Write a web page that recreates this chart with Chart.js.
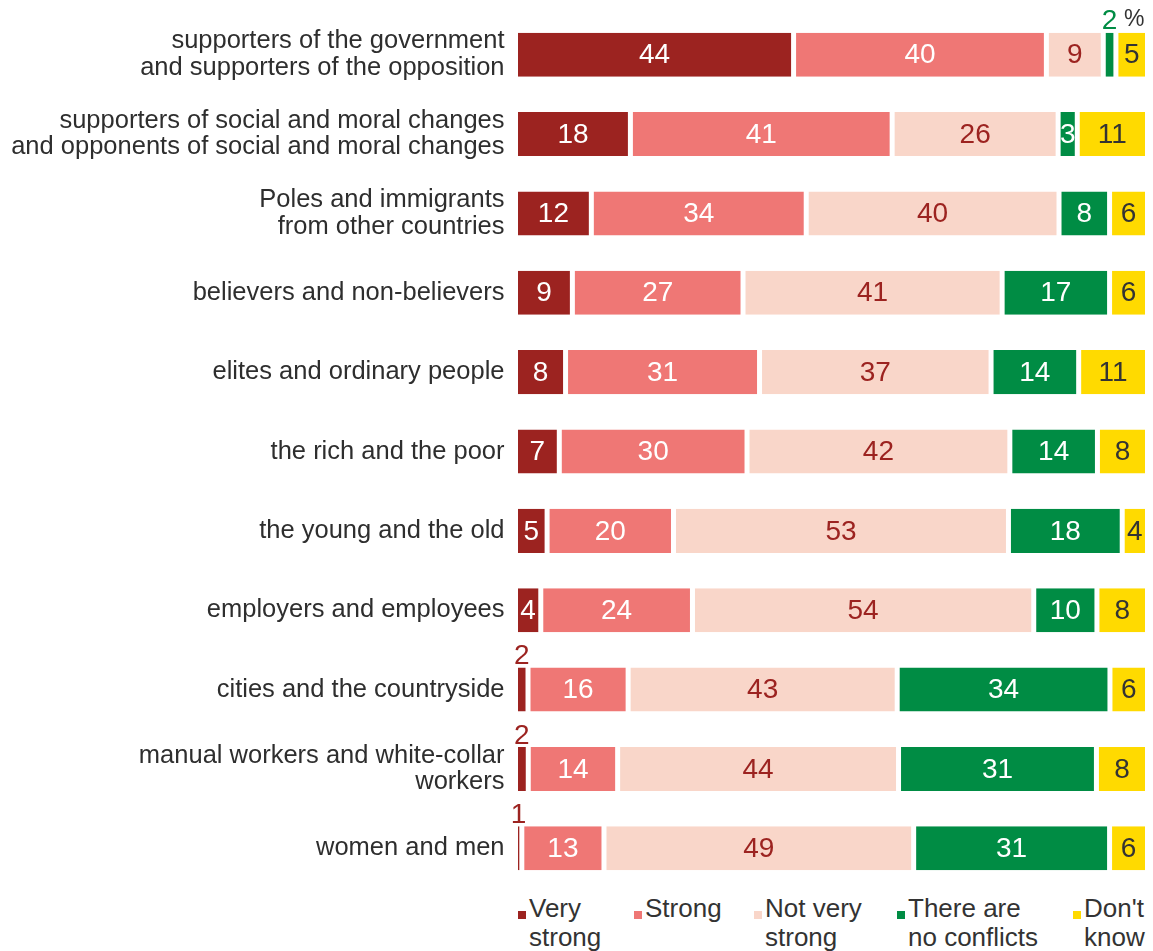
<!DOCTYPE html>
<html>
<head>
<meta charset="utf-8">
<script src="https://cdn.jsdelivr.net/npm/chart.js@4.4.0/dist/chart.umd.min.js"></script>
<style>
    body { margin: 0; background: #fff; font-family: "Liberation Sans", Arial, sans-serif; }
    #wrap { position: relative; width: 1153px; height: 951px; }
    #chart-box { position: absolute; left: 0; top: 0; width: 1153px; height: 888px; }
    #pct { position: absolute; left: 1124px; top: 5px; font-size: 23px; color: #333; }
    .leg { position: absolute; top: 894px; font-size: 26px; line-height: 29px; color: #333; }
    .leg i { position: absolute; left: 0; top: 17px; width: 8px; height: 8px; }
    .leg span { display: block; padding-left: 11px; }
</style>
</head>
<body>
<div id="wrap">
    <div id="chart-box"><canvas id="conflictChart"></canvas></div>
    <div id="pct">%</div>
    <div id="legend"></div>
</div>
<script>
const categories = [
    ['supporters of the government', 'and supporters of the opposition'],
    ['supporters of social and moral changes', 'and opponents of social and moral changes'],
    ['Poles and immigrants', 'from other countries'],
    'believers and non-believers',
    'elites and ordinary people',
    'the rich and the poor',
    'the young and the old',
    'employers and employees',
    'cities and the countryside',
    ['manual workers and white-collar', 'workers'],
    'women and men'
];

const veryStrong = [44, 18, 12, 9, 8, 7, 5, 4, 2, 2, 1];
const strong = [40, 41, 34, 27, 31, 30, 20, 24, 16, 14, 13];
const notVeryStrong = [9, 26, 40, 41, 37, 42, 53, 54, 43, 44, 49];
const noConflicts = [2, 3, 8, 17, 14, 14, 18, 10, 34, 31, 31];
const dontKnow = [5, 11, 6, 6, 11, 8, 4, 8, 6, 8, 6];

const seriesNames = [['Very', 'strong'], ['Strong'], ['Not very', 'strong'], ['There are', 'no conflicts'], ["Don't", 'know']];
const colors = ['#9c2320', '#ef7775', '#f9d6c9', '#008c44', '#ffda00'];
const labelColors = ['#ffffff', '#ffffff', '#9c2320', '#ffffff', '#333333'];
const legendX = [518, 634, 754, 897, 1073];

const allSeries = [veryStrong, strong, notVeryStrong, noConflicts, dontKnow];

// rows don't always add up to 100 (rounding), bars are scaled to full width
const rowTotals = categories.map((c, j) => allSeries.reduce((s, arr) => s + arr[j], 0));

// draws value labels; tiny segments get their label above the bar
const valueLabels = {
    id: 'valueLabels',
    afterDatasetsDraw(chart) {
        const ctx = chart.ctx;
        ctx.save();
        ctx.font = '28px "Liberation Sans", Arial, sans-serif';
        ctx.textAlign = 'center';
        chart.data.datasets.forEach((ds, i) => {
            const meta = chart.getDatasetMeta(i);
            meta.data.forEach((bar, j) => {
                const v = allSeries[i][j];
                const props = bar.getProps(['x', 'y', 'base', 'height'], true);
                const cx = (props.x + props.base) / 2;
                if (v <= 2) {
                    ctx.fillStyle = colors[i];
                    ctx.textBaseline = 'bottom';
                    ctx.fillText(v, cx, props.y - props.height / 2 + 3);
                } else {
                    ctx.fillStyle = labelColors[i];
                    ctx.textBaseline = 'middle';
                    ctx.fillText(v, cx, props.y + 1);
                }
            });
        });
        ctx.restore();
    }
};

const datasets = allSeries.map((data, i) => ({
    label: seriesNames[i].join(' '),
    data: data.map((v, j) => v / rowTotals[j] * 100),
    backgroundColor: colors[i],
    borderColor: '#ffffff',
    borderWidth: { left: 2.5, right: 2.5, top: 0, bottom: 0 },
    borderSkipped: false,
    barPercentage: 1,
    categoryPercentage: 0.555
}));

const ctx = document.getElementById('conflictChart').getContext('2d');
new Chart(ctx, {
    type: 'bar',
    data: { labels: categories, datasets: datasets },
    options: {
        indexAxis: 'y',
        responsive: true,
        maintainAspectRatio: false,
        animation: false,
        layout: { padding: { top: 15, right: 5.5, bottom: 0, left: 0 } },
        plugins: {
            legend: { display: false },
            tooltip: { enabled: false }
        },
        scales: {
            x: {
                stacked: true,
                min: 0,
                max: 100,
                display: false
            },
            y: {
                stacked: true,
                grid: { display: false, drawTicks: false },
                border: { display: false },
                ticks: {
                    color: '#2e2e2e',
                    padding: 11,
                    autoSkip: false,
                    font: { family: '"Liberation Sans", Arial, sans-serif', size: 25.5, lineHeight: 1.05 }
                },
                afterFit(scale) {
                    scale.width = 515.5;
                    scale.paddingTop = 0;
                    scale.paddingBottom = 0;
                }
            }
        }
    },
    plugins: [valueLabels]
});

// legend as html so the labels can wrap over two lines
const legend = document.getElementById('legend');
seriesNames.forEach((name, i) => {
    const item = document.createElement('div');
    item.className = 'leg';
    item.style.left = legendX[i] + 'px';
    item.innerHTML = `<i style="background:${colors[i]}"></i>` + name.map(t => `<span>${t}</span>`).join('');
    legend.appendChild(item);
});
</script>
</body>
</html>
